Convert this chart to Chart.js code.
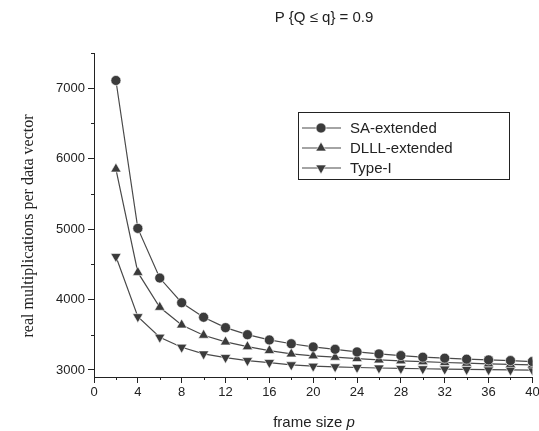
<!DOCTYPE html>
<html>
<head>
<meta charset="utf-8">
<script src="https://cdn.jsdelivr.net/npm/chart.js@4"></script>
<style>
  html, body { margin: 0; padding: 0; background: #fff; }
  #wrap { width: 539px; height: 431px; }
</style>
</head>
<body>
<div id="wrap"><canvas id="chart" width="539" height="431"></canvas></div>
<script>
const frameSizes = [2, 4, 6, 8, 10, 12, 14, 16, 18, 20, 22, 24, 26, 28, 30, 32, 34, 36, 38, 40];
const saExtended = [7110, 5010, 4305, 3955, 3748, 3601, 3501, 3426, 3372, 3327, 3293, 3256, 3228, 3204, 3181, 3167, 3153, 3143, 3133, 3119];
const dlllExtended = [5853, 4385, 3890, 3639, 3493, 3398, 3331, 3275, 3228, 3200, 3181, 3161, 3143, 3129, 3117, 3106, 3096, 3087, 3079, 3071];
const typeI = [4610, 3756, 3465, 3323, 3228, 3176, 3133, 3105, 3073, 3054, 3045, 3035, 3028, 3022, 3017, 3012, 3008, 3004, 3001, 2998];
const seriesNames = ['SA-extended', 'DLLL-extended', 'Type-I'];
const xMajorTicks = [0, 4, 8, 12, 16, 20, 24, 28, 32, 36, 40];
const xMinorTicks = [2, 6, 10, 14, 18, 22, 26, 30, 34, 38];
const yMajorTicks = [3000, 4000, 5000, 6000, 7000];
const yMinorTicks = [3500, 4500, 5500, 6500, 7500];

const markColor = '#3b3b3b';
const lineColor = '#4a4a4a';
const axisColor = '#222';

function toPoints(values) {
    return values.map((v, i) => ({ x: frameSizes[i], y: v }));
}

function makeSet(label, values, style, rotation, radius) {
    return {
        label: label,
        data: toPoints(values),
        showLine: true,
        borderColor: lineColor,
        borderWidth: 1.2,
        backgroundColor: markColor,
        pointBackgroundColor: markColor,
        pointBorderColor: '#ffffff',
        pointBorderWidth: 0.6,
        pointStyle: style,
        pointRotation: rotation,
        pointRadius: radius,
        tension: 0
    };
}

// title, axis titles, minor ticks and the boxed legend are drawn by hand
const decorations = {
    id: 'decorations',
    afterDraw(chart) {
        const ctx = chart.ctx;
        const xs = chart.scales.x;
        const ys = chart.scales.y;
        ctx.save();

        // minor ticks, shorter than the major ones
        ctx.strokeStyle = axisColor;
        ctx.lineWidth = 1;
        ctx.beginPath();
        xMinorTicks.forEach(v => {
            const px = Math.round(xs.getPixelForValue(v)) + 0.5;
            ctx.moveTo(px, xs.top);
            ctx.lineTo(px, xs.top + 3);
        });
        yMinorTicks.forEach(v => {
            const py = Math.round(ys.getPixelForValue(v)) + 0.5;
            ctx.moveTo(ys.right, py);
            ctx.lineTo(ys.right - 3, py);
        });
        ctx.stroke();

        ctx.fillStyle = axisColor;
        ctx.textBaseline = 'middle';
        ctx.font = '15px "Liberation Sans", Arial, sans-serif';
        ctx.textAlign = 'center';
        ctx.fillText('P {Q \u2264 q} = 0.9', 324, 18);

        // x title with italic p
        const part1 = 'frame size ';
        ctx.font = '15px "Liberation Sans", Arial, sans-serif';
        const w1 = ctx.measureText(part1).width;
        ctx.font = 'italic 15px "Liberation Sans", Arial, sans-serif';
        const w2 = ctx.measureText('p').width;
        const start = 314 - (w1 + w2) / 2;
        ctx.textAlign = 'left';
        ctx.font = '15px "Liberation Sans", Arial, sans-serif';
        ctx.fillText(part1, start, 423);
        ctx.font = 'italic 15px "Liberation Sans", Arial, sans-serif';
        ctx.fillText('p', start + w1, 423);

        // y title
        ctx.save();
        ctx.translate(29, 226);
        ctx.rotate(-Math.PI / 2);
        ctx.textAlign = 'center';
        ctx.font = '16px "Liberation Serif", "Times New Roman", serif';
        ctx.fillText('real multiplications per data vector', 0, 0);
        ctx.restore();

        // legend
        ctx.strokeStyle = axisColor;
        ctx.lineWidth = 1;
        ctx.strokeRect(298.5, 112.5, 211, 67);
        const rows = [128, 148, 168];
        chart.data.datasets.forEach((ds, i) => {
            const y = rows[i];
            ctx.strokeStyle = lineColor;
            ctx.lineWidth = 1.2;
            ctx.beginPath();
            ctx.moveTo(302, y);
            ctx.lineTo(341, y);
            ctx.stroke();
            ctx.fillStyle = markColor;
            ctx.strokeStyle = '#fff';
            ctx.lineWidth = 0.6;
            Chart.helpers.drawPoint(ctx, {
                pointStyle: ds.pointStyle,
                rotation: ds.pointRotation,
                radius: ds.pointRadius,
                borderWidth: 0.6
            }, 321, y);
            ctx.fillStyle = axisColor;
            ctx.textAlign = 'left';
            ctx.font = '15px "Liberation Sans", Arial, sans-serif';
            ctx.fillText(ds.label, 350, y + 1);
        });
        ctx.restore();
    }
};

new Chart(document.getElementById('chart'), {
    type: 'scatter',
    data: {
        datasets: [
            makeSet(seriesNames[0], saExtended, 'circle', 0, 5),
            makeSet(seriesNames[1], dlllExtended, 'triangle', 0, 6),
            makeSet(seriesNames[2], typeI, 'triangle', 180, 6)
        ]
    },
    options: {
        responsive: false,
        animation: false,
        layout: { padding: { top: 53, right: 6, left: 0, bottom: 0 } },
        plugins: {
            legend: { display: false },
            title: { display: false },
            tooltip: { enabled: false }
        },
        scales: {
            x: {
                type: 'linear',
                min: 0,
                max: 40,
                afterBuildTicks(scale) {
                    scale.ticks = xMajorTicks.map(v => ({ value: v }));
                },
                afterFit(scale) {
                    scale.height = 54;
                    scale.paddingLeft = 0;
                    scale.paddingRight = 0;
                },
                ticks: {
                    autoSkip: false,
                    maxRotation: 0,
                    padding: 2,
                    color: axisColor,
                    font: { family: '"Liberation Sans", Arial, sans-serif', size: 13 },
                    callback: v => String(v)
                },
                grid: { drawOnChartArea: false, drawTicks: true, tickLength: 6, color: axisColor },
                border: { display: true, color: axisColor, width: 1 }
            },
            y: {
                type: 'linear',
                min: 2900,
                max: 7500,
                afterBuildTicks(scale) {
                    scale.ticks = yMajorTicks.map(v => ({ value: v }));
                },
                afterFit(scale) {
                    scale.width = 94;
                    scale.paddingTop = 0;
                    scale.paddingBottom = 0;
                },
                ticks: {
                    autoSkip: false,
                    padding: 3,
                    color: axisColor,
                    font: { family: '"Liberation Sans", Arial, sans-serif', size: 13 },
                    callback: v => String(v)
                },
                grid: { drawOnChartArea: false, drawTicks: true, tickLength: 6, color: axisColor },
                border: { display: true, color: axisColor, width: 1 }
            }
        }
    },
    plugins: [decorations]
});
</script>
</body>
</html>
